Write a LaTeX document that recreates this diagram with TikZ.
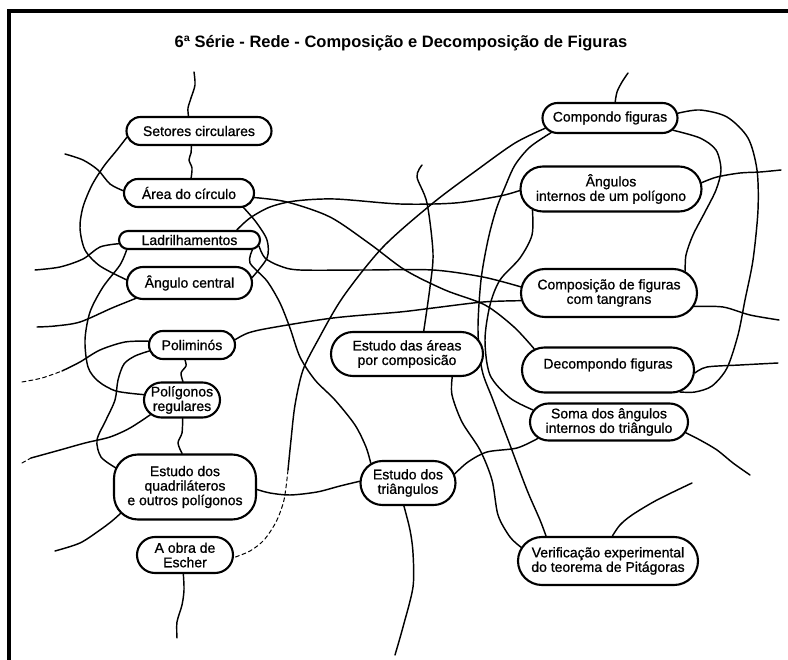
\documentclass[tikz,border=0pt]{standalone}
\usepackage{fontspec}
\setmainfont{Liberation Sans}
\newfontfamily\nodefont[FakeBold=0.9]{Liberation Sans}
\usetikzlibrary{shapes.misc,calc}
\pgfdeclarelayer{bg}
\pgfsetlayers{bg,main}
\begin{document}
\begin{tikzpicture}[x=1pt,y=-1pt,
  box/.style={draw, line width=2.1pt, rounded rectangle, fill=white, inner sep=0pt, align=center,
    font=\nodefont\fontsize{14}{14.5}\selectfont},
  rbox/.style={draw, line width=2.1pt, rectangle, rounded corners=24pt, fill=white, inner sep=0pt, align=center,
    font=\nodefont\fontsize{14}{14.5}\selectfont},
  con/.style={line width=1.45pt, line cap=round, line join=round},
  faint/.style={line width=1pt, line cap=round, dash pattern=on 4pt off 3pt},
]
\useasboundingbox (0,0) rectangle (788,660);

% nodes
\node[box, minimum width=145pt, minimum height=28pt] (set) at (199,131) {Setores circulares};
\node[box, minimum width=130pt, minimum height=28pt] (area) at (189,193) {Área do círculo};
\node[box, minimum width=141pt, minimum height=18pt] (ladr) at (189.5,240) {Ladrilhamentos};
\node[box, minimum width=125pt, minimum height=32pt] (ang) at (189.5,283) {Ângulo central};
\node[box, minimum width=86pt, minimum height=28pt] (poli) at (192,345) {Poliminós};
\node[box, minimum width=76pt, minimum height=35pt] (preg) at (182,400) {Polígonos\\regulares};
\node[rbox, minimum width=142pt, minimum height=65pt] (quad) at (185,487) {Estudo dos\\quadriláteros\\e outros polígonos};
\node[box, minimum width=96pt, minimum height=36pt] (esch) at (185,555) {A obra de\\Escher};
\node[box, minimum width=152pt, minimum height=44pt] (areas) at (407,354) {Estudo das áreas\\por composicão};
\node[box, minimum width=95pt, minimum height=44pt] (tri) at (408,483) {Estudo dos\\triângulos};
\node[box, minimum width=135pt, minimum height=30pt] (comp) at (610,118) {Compondo figuras};
\node[box, minimum width=181pt, minimum height=45pt] (angi) at (611,189) {Ângulos\\internos de um polígono};
\node[box, minimum width=176pt, minimum height=48pt] (tang) at (609,293) {Composição de figuras\\com tangrans};
\node[box, minimum width=172pt, minimum height=45pt] (decomp) at (608,370) {\raisebox{13pt}{Decompondo figuras}};
\node[box, minimum width=158pt, minimum height=37pt] (soma) at (609,422) {Soma dos ângulos\\internos do triângulo};
\node[box, minimum width=180pt, minimum height=48pt] (verif) at (608,561) {Verificação experimental\\do teorema de Pitágoras};

\node[font=\bfseries\fontsize{16.5}{18}\selectfont] (title) at (401,43) {6ª Série - Rede - Composição e Decomposição de Figuras};

% free ends
\coordinate (f1) at (194,72);
\coordinate (f4) at (65,154);
\coordinate (f8) at (35,270);
\coordinate (f10) at (37,327);
\coordinate (f14) at (22,382);
\coordinate (f14b) at (62,371);
\coordinate (f17) at (22,463);
\coordinate (f17b) at (31,458);
\coordinate (f20) at (55,551);
\coordinate (f21) at (177,638);
\coordinate (f22) at (288,470);
\coordinate (f23) at (628,73);
\coordinate (f26) at (781,170);
\coordinate (f27) at (779,320);
\coordinate (f28) at (778,363);
\coordinate (f32) at (750,475);
\coordinate (f33) at (692,483);
\coordinate (f34) at (395,655);
\coordinate (f37) at (422,165);

\begin{pgfonlayer}{bg}
\fill[white] (0,0) rectangle (788,660);
\draw[con] plot[smooth] coordinates {(f1) (195,85) (191,98) (188,108) (set.125)};
\draw[con] plot[smooth] coordinates {(set.243) (191,153) (189,160) (192,168) (area.82)};
\draw[con] plot[smooth] coordinates {(set.185) (117,150) (104,166) (92,185) (83,207) (80,228) (85,250) (100,266) (ang.177)};
\draw[con] plot[smooth] coordinates {(f4) (83,160) (98,170) (110,184) (area.178)};
\draw[con] plot[smooth] coordinates {(area.-4) (287,202) (330,217) (370,244) (405,270) (445,290) (485,305) (514,327) (decomp.164)};
\draw[con] plot[smooth] coordinates {(area.-15) (256,222) (267,240) (267,258) (ang.5)};
\draw[con] plot[smooth] coordinates {(ladr.12) (250,218) (270,207) (295,201) (335,199) (400,204) (455,203) (500,196) (angi.181)};
\draw[con] plot[smooth] coordinates {(ladr.183) (100,247) (83,259) (60,267) (f8)};
\draw[con] plot[smooth] coordinates {(ladr.189) (120,265) (103,287) (90,312) (85,340) (88,367) (98,381) (116,391) (preg.172)};
\draw[con] plot[smooth] coordinates {(ang.196) (112,308) (80,322) (55,326) (f10)};
\draw[con] plot[smooth] coordinates {(ladr.-9) (250,263) (267,281) (280,303) (290,328) (300,357) (315,380) (335,400) (355,425) (366,447) (tri.152)};
\draw[con] plot[smooth] coordinates {(ladr.-5) (265,258) (280,266) (300,270) (367,270) (433,270) (483,277) (tang.176)};
\draw[con] plot[smooth] coordinates {(poli.7) (248,333) (270,328) (333,318) (400,312) (433,308) (483,302) (tang.185)};
\draw[faint] plot[smooth] coordinates {(f14) (42,378) (f14b)};
\draw[con] plot[smooth] coordinates {(f14b) (80,362) (100,350) (125,342) (poli.175)};
\draw[con] plot[smooth] coordinates {(poli.188) (135,356) (124,364) (118,380) (115,400) (106,420) (97,440) (101,457) ($(quad.center)+(-69,-19)$)};
\draw[con] plot[smooth] coordinates {(poli.245) (186,366) (181,373) (preg.87)};
\draw[faint] (f17) -- (f17b);
\draw[con] plot[smooth] coordinates {(f17b) (60,450) (85,443) (110,437) (130,428) (preg.205)};
\draw[con] plot[smooth] coordinates {(preg.-88) (182,433) (178,443) (quad.95)};
\draw[con] plot[smooth] coordinates {(quad.-2) (270,493) (290,495) (317,492) (340,486) (tri.178)};
\draw[con] plot[smooth] coordinates {(f20) (80,543) (100,530) (112,521) ($(quad.center)+(-64,26)$)};
\draw[con] plot[smooth] coordinates {(esch.265) (184,590) (182,605) (177,622) (f21)};
\draw[con] plot[smooth] coordinates {(comp.189) (515,143) (477,170) (433,203) (383,247) (343,297) (318,340) (303,370) (295,405) (291,440) (f22)};
\draw[faint] plot[smooth] coordinates {(f22) (284,500) (276,522) (264,540) (250,551) (esch.-3)};
\draw[con] plot[smooth] coordinates {(comp.72) (617,92) (622,82) (f23)};
\draw[con] plot[smooth] coordinates {(comp.4) (700,110) (727,117) (748,138) (757,170) (758,210) (753,260) (745,300) (738,335) (727,368) (712,386) (695,392) (decomp.-17)};
\draw[con] plot[smooth] coordinates {(comp.-11) (700,138) (716,150) (721,170) (716,190) (705,212) (693,235) (686,255) (tang.16)};
\draw[con] plot[smooth] coordinates {(angi.4) (717,177) (740,173) (760,172) (f26)};
\draw[con] plot[smooth] coordinates {(tang.-9) (723,307) (750,315) (f27)};
\draw[con] plot[smooth] coordinates {(decomp.-2) (707,367) (740,365) (f28)};
\draw[con] plot[smooth] coordinates {(angi.195) (532,235) (520,258) (500,280) (490,305) (485,340) (490,375) (510,398) (soma.171)};
\draw[con] plot[smooth] coordinates {(comp.194) (530,147) (515,165) (505,187) (496,210) (488,240) (481,280) (478,330) (482,370) (493,400) (510,445) (527,490) (540,520) (verif.158)};
\draw[con] plot[smooth] coordinates {(soma.193) (517,448) (487,452) (468,462) (tri.11)};
\draw[con] plot[smooth] coordinates {(soma.-8) (700,440) (717,450) (733,463) (f32)};
\draw[con] plot[smooth] coordinates {(verif.80) (620,525) (632,515) (657,500) (f33)};
\draw[con] plot[smooth] coordinates {(tri.260) (410,530) (413,553) (413,587) (403,627) (f34)};
\draw[con] plot[smooth] coordinates {(areas.-27) (452,395) (462,422) (480,450) (492,480) (498,515) (510,537) (verif.171)};
\draw[con] plot[smooth] coordinates {(f37) (417,177) (427,203) (433,253) (430,287) (areas.54)};
\end{pgfonlayer}

% frame
\draw[line width=4pt, line join=miter] (9.3,660) -- (9.3,10.7) -- (788,10.7);
\end{tikzpicture}
\end{document}
